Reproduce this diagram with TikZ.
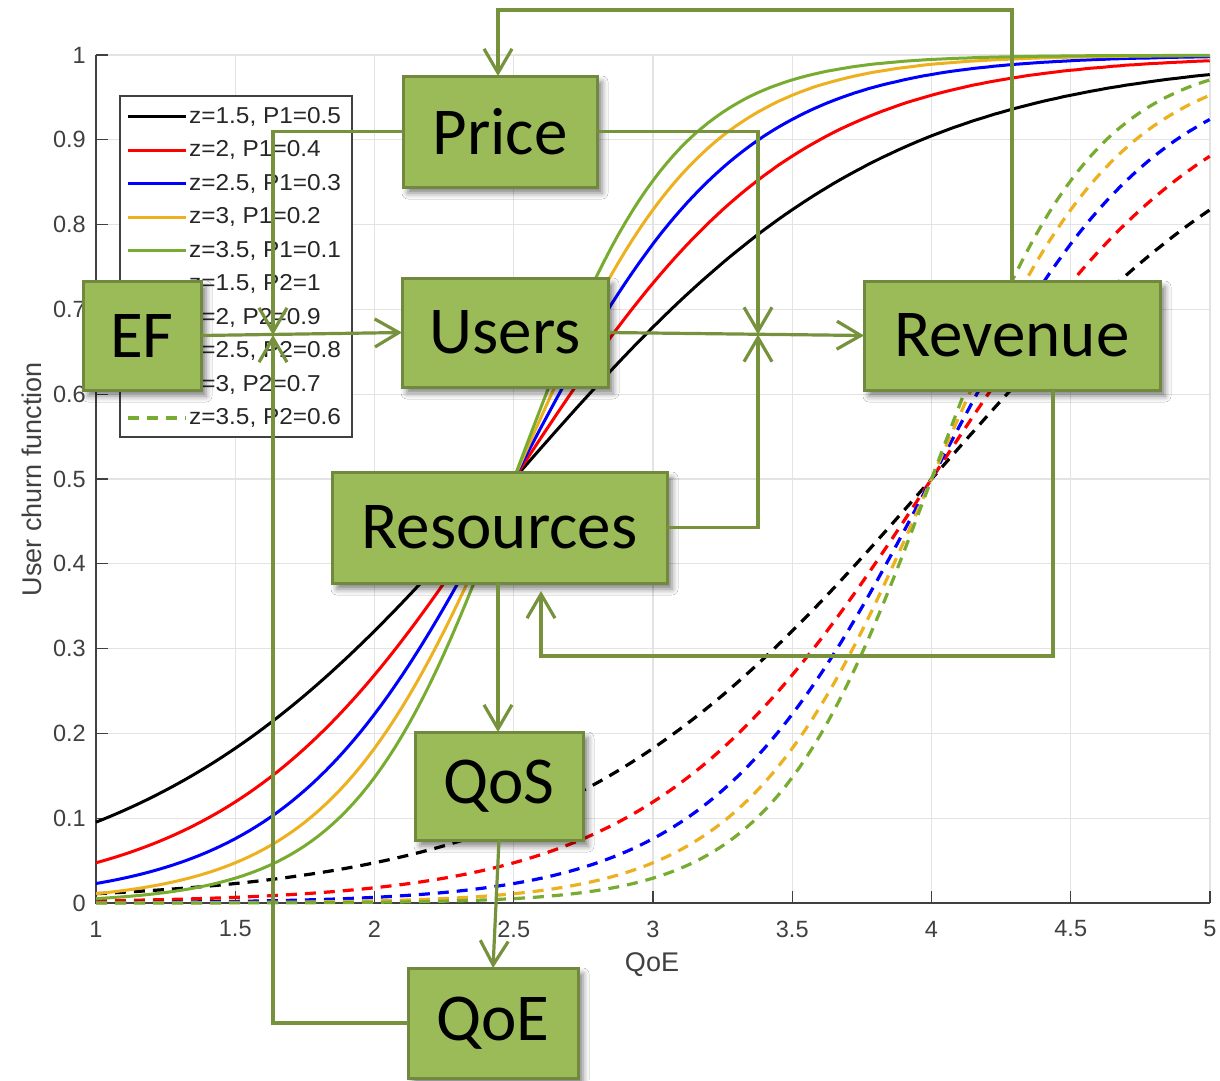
\documentclass[tikz,border=0pt]{standalone}
\usepackage{fontspec}
\setmainfont{Liberation Sans}
\newfontfamily\boxfont{Carlito}
\usetikzlibrary{arrows.meta,shadows.blur}

\definecolor{mBlue}{rgb}{0,0,1}
\definecolor{mRed}{rgb}{1,0,0}
\definecolor{mYellow}{HTML}{EDB120}
\definecolor{mGreen}{HTML}{77AC30}
\definecolor{axisc}{HTML}{404040}
\definecolor{gridc}{HTML}{E3E3E3}
\definecolor{boxfill}{HTML}{9BBB59}
\definecolor{boxline}{HTML}{71893F}
\definecolor{linkc}{HTML}{76923C}

\tikzset{
  block/.style={draw=boxline, fill=boxfill, line width=3pt, inner sep=0pt, outer sep=0pt,
    font=\boxfont\fontsize{67}{70}\selectfont,
    blur shadow={shadow xshift=5pt, shadow yshift=-6pt, shadow blur radius=6pt, shadow opacity=50}},
  conn/.style={draw=linkc, line width=3.2pt},
  arr/.style={conn, -{Straight Barb[length=24pt, width=28pt, line width=3.2pt]}},
  curve/.style={line width=3pt},
  dcurve/.style={line width=3.2pt, dash pattern=on 11pt off 8pt},
  ticklab/.style={inner sep=0pt, text=axisc, font=\fontsize{23.5}{26}\selectfont},
  axlab/.style={inner sep=0pt, text=axisc, font=\fontsize{27}{30}\selectfont},
  legtext/.style={inner sep=0pt, anchor=west, text=black!85, font=\fontsize{23}{25}\selectfont},
}

\begin{document}
\begin{tikzpicture}[x=1pt, y=-1pt]
  \useasboundingbox (0,0) rectangle (1220,1080);
  \fill[white] (0,0) rectangle (1220,1080);

  % grid
  \foreach \k in {0,...,8} \draw[gridc, line width=1.2pt] ({96+139.25*\k},55) -- ({96+139.25*\k},903);
  \foreach \v in {0,...,10} \draw[gridc, line width=1.2pt] (96,{903-84.8*\v}) -- (1210,{903-84.8*\v});

  % axes and ticks
  \draw[axisc, line width=1.3pt] (96,55) -- (96,903) -- (1210,903);
  \foreach \k in {0,...,8} \draw[axisc, line width=1.3pt] ({96+139.25*\k},903) -- ({96+139.25*\k},891);
  \foreach \v in {0,...,10} \draw[axisc, line width=1.3pt] (96,{903-84.8*\v}) -- (108,{903-84.8*\v});

  % tick labels
  \foreach \v/\t in {0/0,1/0.1,2/0.2,3/0.3,4/0.4,5/0.5,6/0.6,7/0.7,8/0.8,9/0.9,10/1}
    \node[ticklab, anchor=east] (ytick\v) at (86,{903-84.8*\v}) {\t};
  \foreach \k/\t in {0/1,1/1.5,2/2,3/2.5,4/3,5/3.5,6/4,7/4.5,8/5}
    \node[ticklab] (xtick\k) at ({96+139.25*\k},929) {\t};
  \node[axlab] (xlabel) at (652,965) {QoE};
  \node[axlab, rotate=90] (ylabel) at (32,479) {User churn function};

  % churn curves: 1/(1+exp(-z(q-c)))
  \begin{scope}[shift={(96pt,-903pt)}, x=278.5pt, y=848pt]
    \foreach \z/\c in {1.5/black,2/mRed,2.5/mBlue,3/mYellow,3.5/mGreen} {
      \draw[curve, \c] plot[domain=0:4, samples=161] (\x, {1/(1+exp(min(9.5,-\z*(\x-1.5))))});
      \draw[dcurve, \c] plot[domain=0:4, samples=161] (\x, {1/(1+exp(min(9.5,-\z*(\x-3))))});
    }
  \end{scope}

  % legend
  \draw[fill=white, draw=axisc, line width=1.2pt] (120,96) rectangle (352,437);
  \foreach \i/\c/\t in {0/black/{z=1.5, P1=0.5},1/mRed/{z=2, P1=0.4},2/mBlue/{z=2.5, P1=0.3},
                       3/mYellow/{z=3, P1=0.2},4/mGreen/{z=3.5, P1=0.1}} {
    \draw[curve, \c] (128,{116.5+33.5*\i}) -- (186,{116.5+33.5*\i});
    \node[legtext] (leg\i) at (189,{116.5+33.5*\i}) {\scalebox{1.06}[1]{\t}};
  }
  \foreach \i/\c/\t in {5/black/{z=1.5, P2=1},6/mRed/{z=2, P2=0.9},7/mBlue/{z=2.5, P2=0.8},
                       8/mYellow/{z=3, P2=0.7},9/mGreen/{z=3.5, P2=0.6}} {
    \draw[dcurve, \c] (128,{116.5+33.5*\i}) -- (186,{116.5+33.5*\i});
    \node[legtext] (leg\i) at (189,{116.5+33.5*\i}) {\scalebox{1.06}[1]{\t}};
  }

  % blocks
  \node[block, minimum width=118pt, minimum height=109pt] (ef) at (142,335.5) {EF};
  \node[block, minimum width=206pt, minimum height=109pt] (users) at (505,332.5) {Users};
  \node[block, minimum width=296pt, minimum height=109pt] (revenue) at (1012,335.5) {Revenue};
  \node[block, minimum width=194pt, minimum height=111pt] (price) at (500,131.5) {Price};
  \node[block, minimum width=335pt, minimum height=111pt] (resources) at (499.5,527.5) {Resources};
  \node[block, minimum width=168pt, minimum height=108pt] (qos) at (499,786) {QoS};
  \node[block, minimum width=170pt, minimum height=110pt] (qoe) at (493,1023) {QoE};

  % junction points and routing corners
  \coordinate (jl) at (273,335);
  \coordinate (jr) at (758,334.5);
  \coordinate (loopT) at (760,10);
  \coordinate (loopB) at (800,656);

  % connectors
  \draw[arr] (ef.east) -- (users.west);
  \draw[arr] (users.east) -- (revenue.west);
  \draw[arr] (price.west) -| (jl);
  \draw[arr] (qoe.west) -| (jl);
  \draw[arr] (price.east) -| (jr);
  \draw[arr] (resources.east) -| (jr);
  \draw[arr] (revenue.north) |- (loopT) -| ([xshift=-2pt]price.north);
  \draw[arr, shorten >=8pt] ([xshift=41pt]revenue.south) |- (loopB) -| ([xshift=41.5pt]resources.south);
  \draw[arr] ([xshift=-1.5pt]resources.south) -- ([xshift=-1.5pt]resources.south |- qos.north);
  \draw[arr] (qos.south) -- (qoe.north);
\end{tikzpicture}
\end{document}
